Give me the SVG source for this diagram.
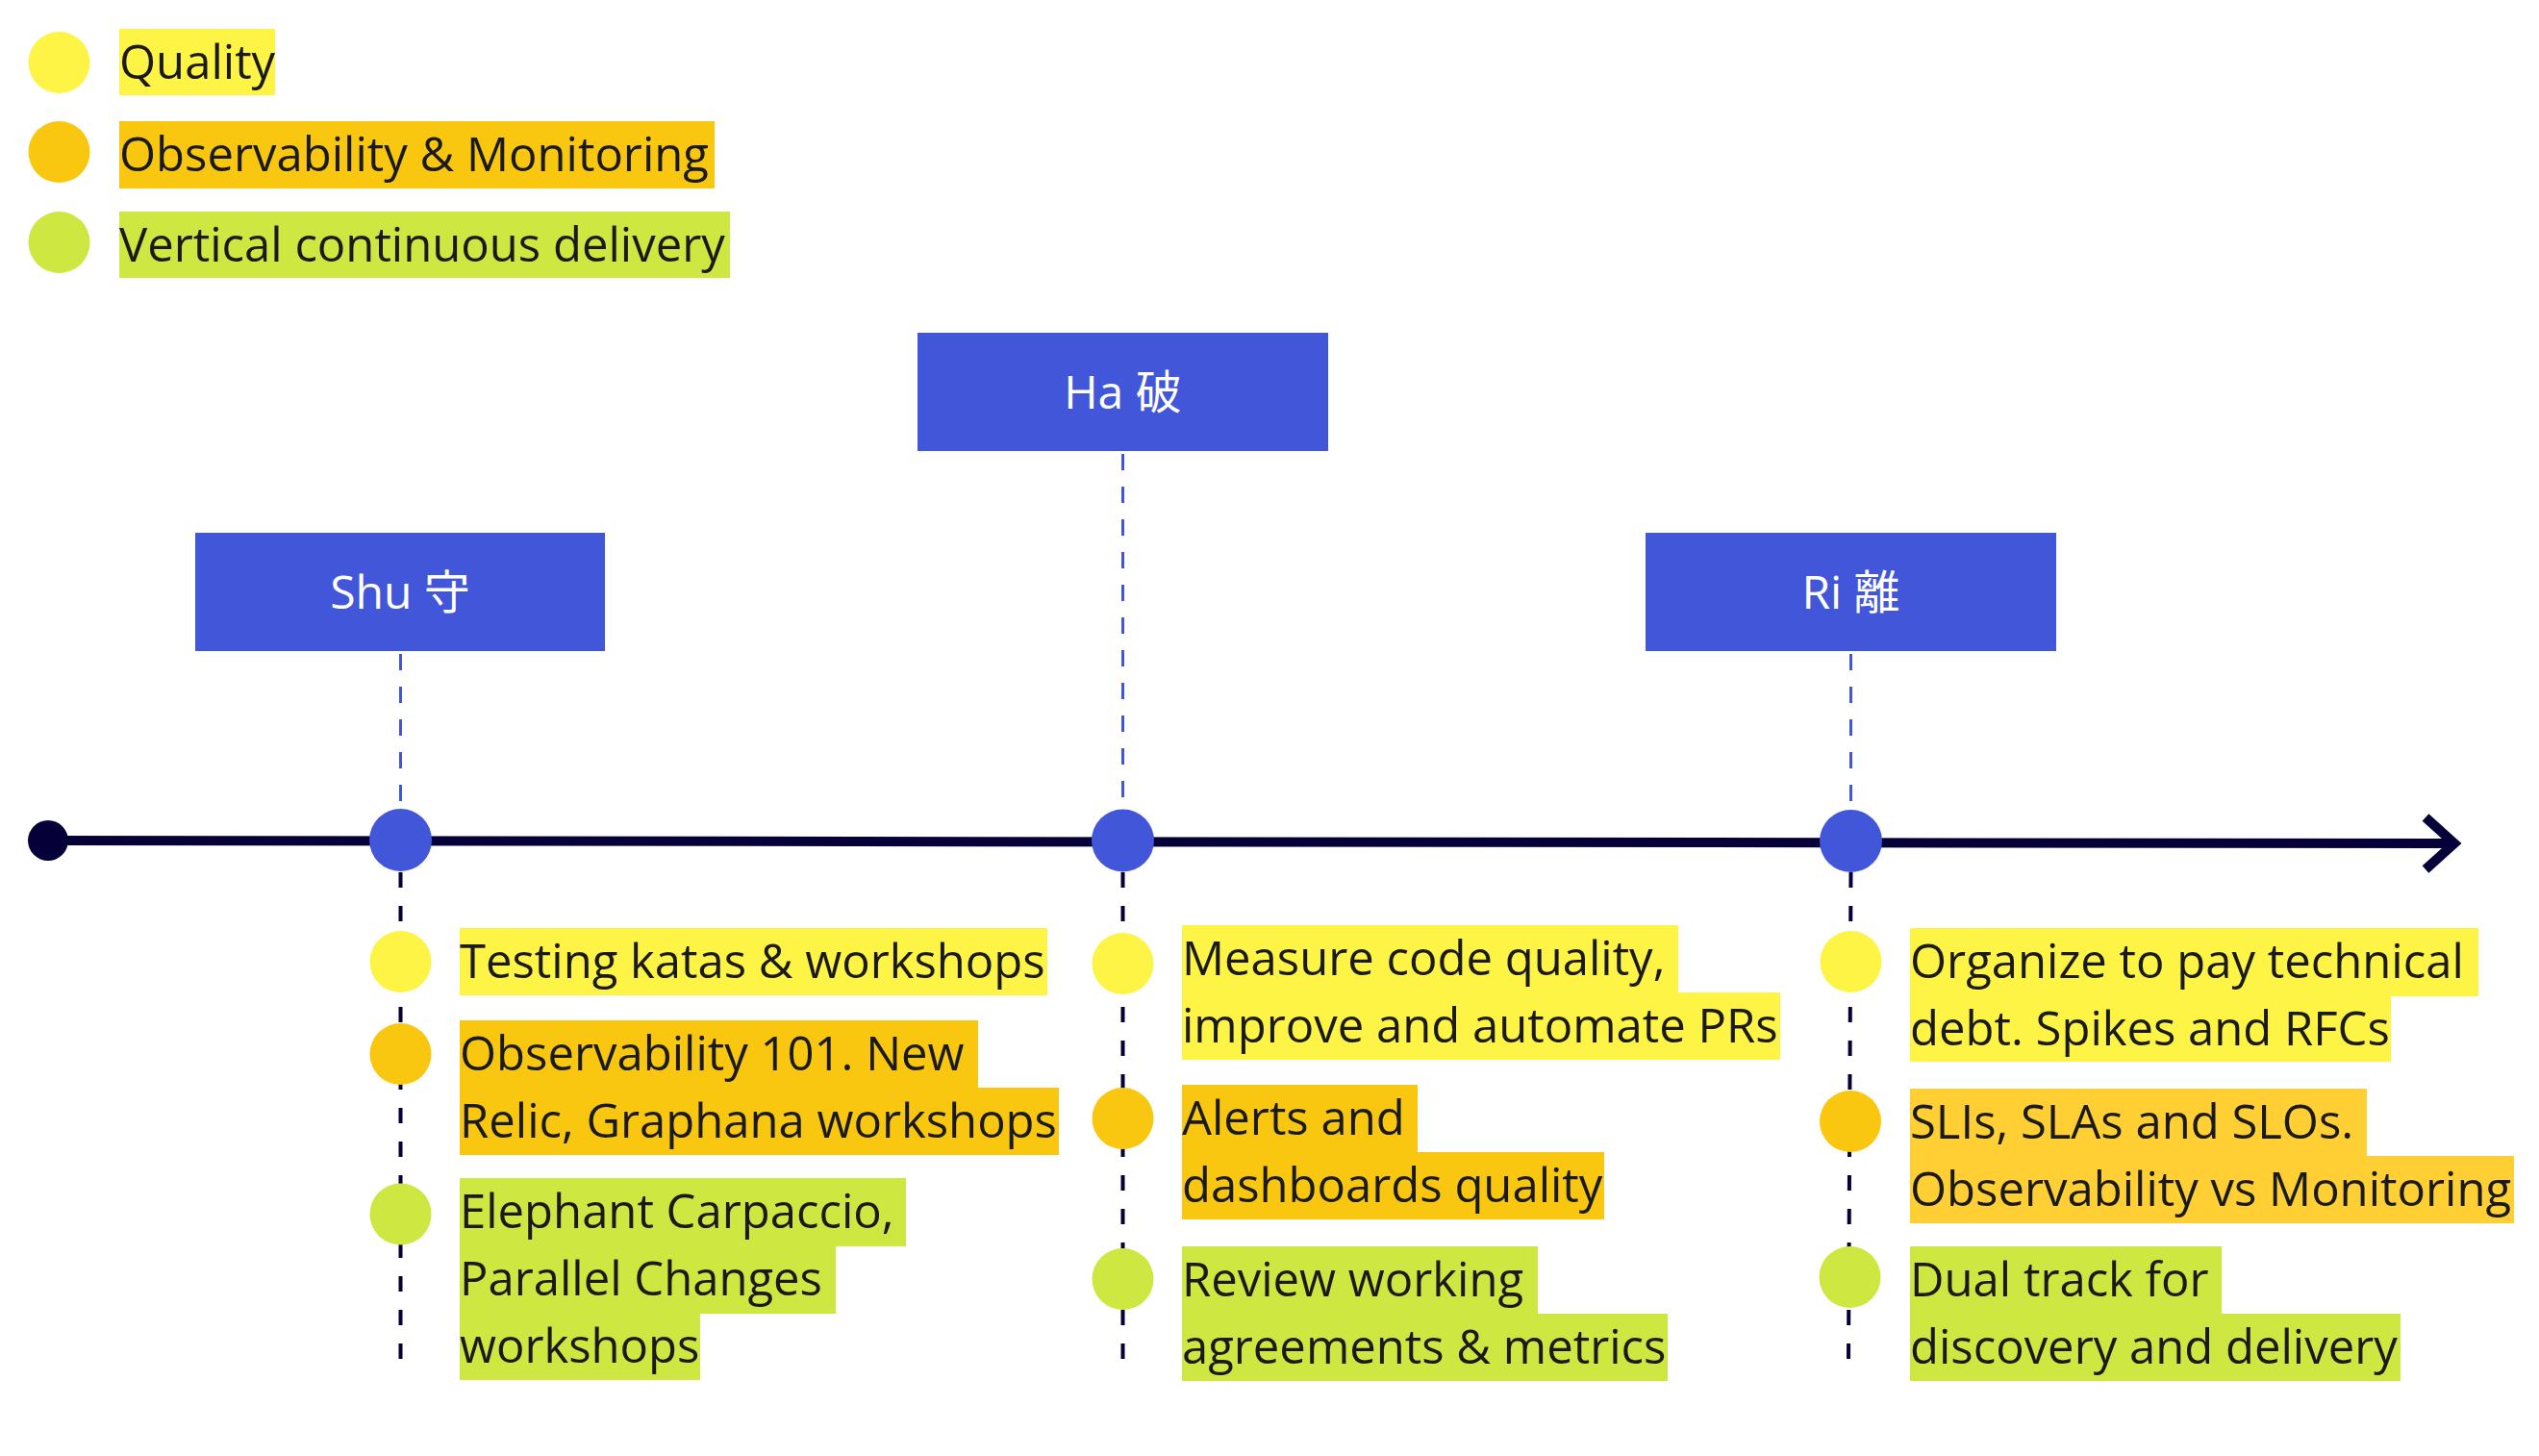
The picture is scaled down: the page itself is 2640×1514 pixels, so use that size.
<svg xmlns="http://www.w3.org/2000/svg" width="2640" height="1514" viewBox="0 0 2640 1514">
<style>
  .t { font-family: "Open Sans", "Noto Sans", "Liberation Sans", sans-serif; font-size: 49px; fill: #1a1a1a; }
  .bt { font-family: "Open Sans", "Noto Sans CJK JP", "Noto Sans CJK TC", sans-serif; font-size: 48px; fill: #ffffff; text-anchor: middle; }
  .box { fill: #4256DA; }
  .node { fill: #4256DA; }
  .y { fill: #FEF445; }
  .o { fill: #FAC710; }
  .o2 { fill: #FFCF33; }
  .g { fill: #CEE741; }
  .up { stroke: #4256DA; stroke-width: 3; stroke-dasharray: 17 17; fill: none; }
  .down { stroke: #050038; stroke-width: 4; stroke-dasharray: 16 19; fill: none; }
  .axis { stroke: #050038; stroke-width: 10; fill: none; }
</style>
<rect width="2640" height="1514" fill="#ffffff"/>

<g id="legend">
  <circle class="y" cx="61.5" cy="65" r="32"/>
  <rect class="y" x="124" y="30" width="162" height="69"/>
  <text class="t" x="124" y="82">Quality</text>
  <circle class="o" cx="61.5" cy="158" r="32"/>
  <rect class="o" x="124" y="126" width="619" height="70"/>
  <text class="t" x="124" y="178">Observability &amp; Monitoring</text>
  <circle class="g" cx="61.5" cy="252" r="32"/>
  <rect class="g" x="124" y="220" width="635" height="69"/>
  <text class="t" x="124" y="272">Vertical continuous delivery</text>
</g>

<g id="connectors">
  <line class="axis" x1="50" y1="874" x2="2550" y2="877"/>
  <polyline class="axis" points="2522,850 2552,877 2522,904" stroke-linejoin="miter"/>
  <circle cx="50" cy="874" r="21" fill="#050038"/>
  <line class="up" x1="416.5" y1="680" x2="416.5" y2="841"/>
  <line class="up" x1="1167.5" y1="472" x2="1167.5" y2="842"/>
  <line class="up" x1="1924.5" y1="680" x2="1924.5" y2="842"/>
  <line class="down" x1="416.5" y1="907" x2="416.5" y2="1413"/>
  <line class="down" x1="1167.5" y1="907" x2="1167.5" y2="1414"/>
  <line class="down" x1="1924.5" y1="907" x2="1922" y2="1415"/>
</g>

<g id="shu">
  <rect class="box" x="203" y="554" width="426" height="123"/>
  <text class="bt" x="416" y="633">Shu 守</text>
  <circle class="node" cx="416.5" cy="873.5" r="32.5"/>
</g>
<g id="ha">
  <rect class="box" x="954" y="346" width="427" height="123"/>
  <text class="bt" x="1167.5" y="425">Ha 破</text>
  <circle class="node" cx="1167.5" cy="874" r="32.5"/>
</g>
<g id="ri">
  <rect class="box" x="1711" y="554" width="427" height="123"/>
  <text class="bt" x="1924.5" y="633">Ri 離</text>
  <circle class="node" cx="1924.5" cy="874.5" r="32.5"/>
</g>

<g id="shu-items">
  <circle class="y" cx="416.5" cy="1000" r="32"/>
  <rect class="y" x="478" y="965" width="611" height="70"/>
  <text class="t" x="478" y="1017">Testing katas &amp; workshops</text>
  <circle class="o" cx="416.5" cy="1096" r="32"/>
  <rect class="o" x="478" y="1061" width="539" height="71"/>
  <rect class="o" x="478" y="1131" width="623" height="70"/>
  <text class="t" x="478" y="1113">Observability 101. New</text>
  <text class="t" x="478" y="1183">Relic, Graphana workshops</text>
  <circle class="g" cx="416.5" cy="1262.5" r="32"/>
  <rect class="g" x="478" y="1225" width="464" height="71"/>
  <rect class="g" x="478" y="1295" width="391" height="71"/>
  <rect class="g" x="478" y="1365" width="250" height="70"/>
  <text class="t" x="478" y="1277">Elephant Carpaccio,</text>
  <text class="t" x="478" y="1347">Parallel Changes</text>
  <text class="t" x="478" y="1417">workshops</text>
</g>

<g id="ha-items">
  <circle class="y" cx="1167.5" cy="1002" r="32"/>
  <rect class="y" x="1229" y="962" width="516" height="71"/>
  <rect class="y" x="1229" y="1032" width="622" height="70"/>
  <text class="t" x="1229" y="1014">Measure code quality,</text>
  <text class="t" x="1229" y="1084">improve and automate PRs</text>
  <circle class="o" cx="1167.5" cy="1163" r="32"/>
  <rect class="o" x="1229" y="1128" width="245" height="71"/>
  <rect class="o" x="1229" y="1198" width="439" height="70"/>
  <text class="t" x="1229" y="1180">Alerts and</text>
  <text class="t" x="1229" y="1250">dashboards quality</text>
  <circle class="g" cx="1167.5" cy="1330" r="32"/>
  <rect class="g" x="1229" y="1296" width="370" height="71"/>
  <rect class="g" x="1229" y="1366" width="505" height="70"/>
  <text class="t" x="1229" y="1348">Review working</text>
  <text class="t" x="1229" y="1418">agreements &amp; metrics</text>
</g>

<g id="ri-items">
  <circle class="y" cx="1924.5" cy="1000" r="32"/>
  <rect class="y" x="1986" y="965" width="591" height="71"/>
  <rect class="y" x="1986" y="1035" width="500" height="69"/>
  <text class="t" x="1986" y="1017">Organize to pay technical</text>
  <text class="t" x="1986" y="1087">debt. Spikes and RFCs</text>
  <circle class="o" cx="1924" cy="1166" r="32"/>
  <rect class="o2" x="1986" y="1132" width="475" height="71"/>
  <rect class="o2" x="1986" y="1202" width="628" height="70"/>
  <text class="t" x="1986" y="1184">SLIs, SLAs and SLOs.</text>
  <text class="t" x="1986" y="1254">Observability vs Monitoring</text>
  <circle class="g" cx="1923.5" cy="1328" r="32"/>
  <rect class="g" x="1986" y="1296" width="324" height="71"/>
  <rect class="g" x="1986" y="1366" width="510" height="70"/>
  <text class="t" x="1986" y="1348">Dual track for</text>
  <text class="t" x="1986" y="1418">discovery and delivery</text>
</g>
</svg>
